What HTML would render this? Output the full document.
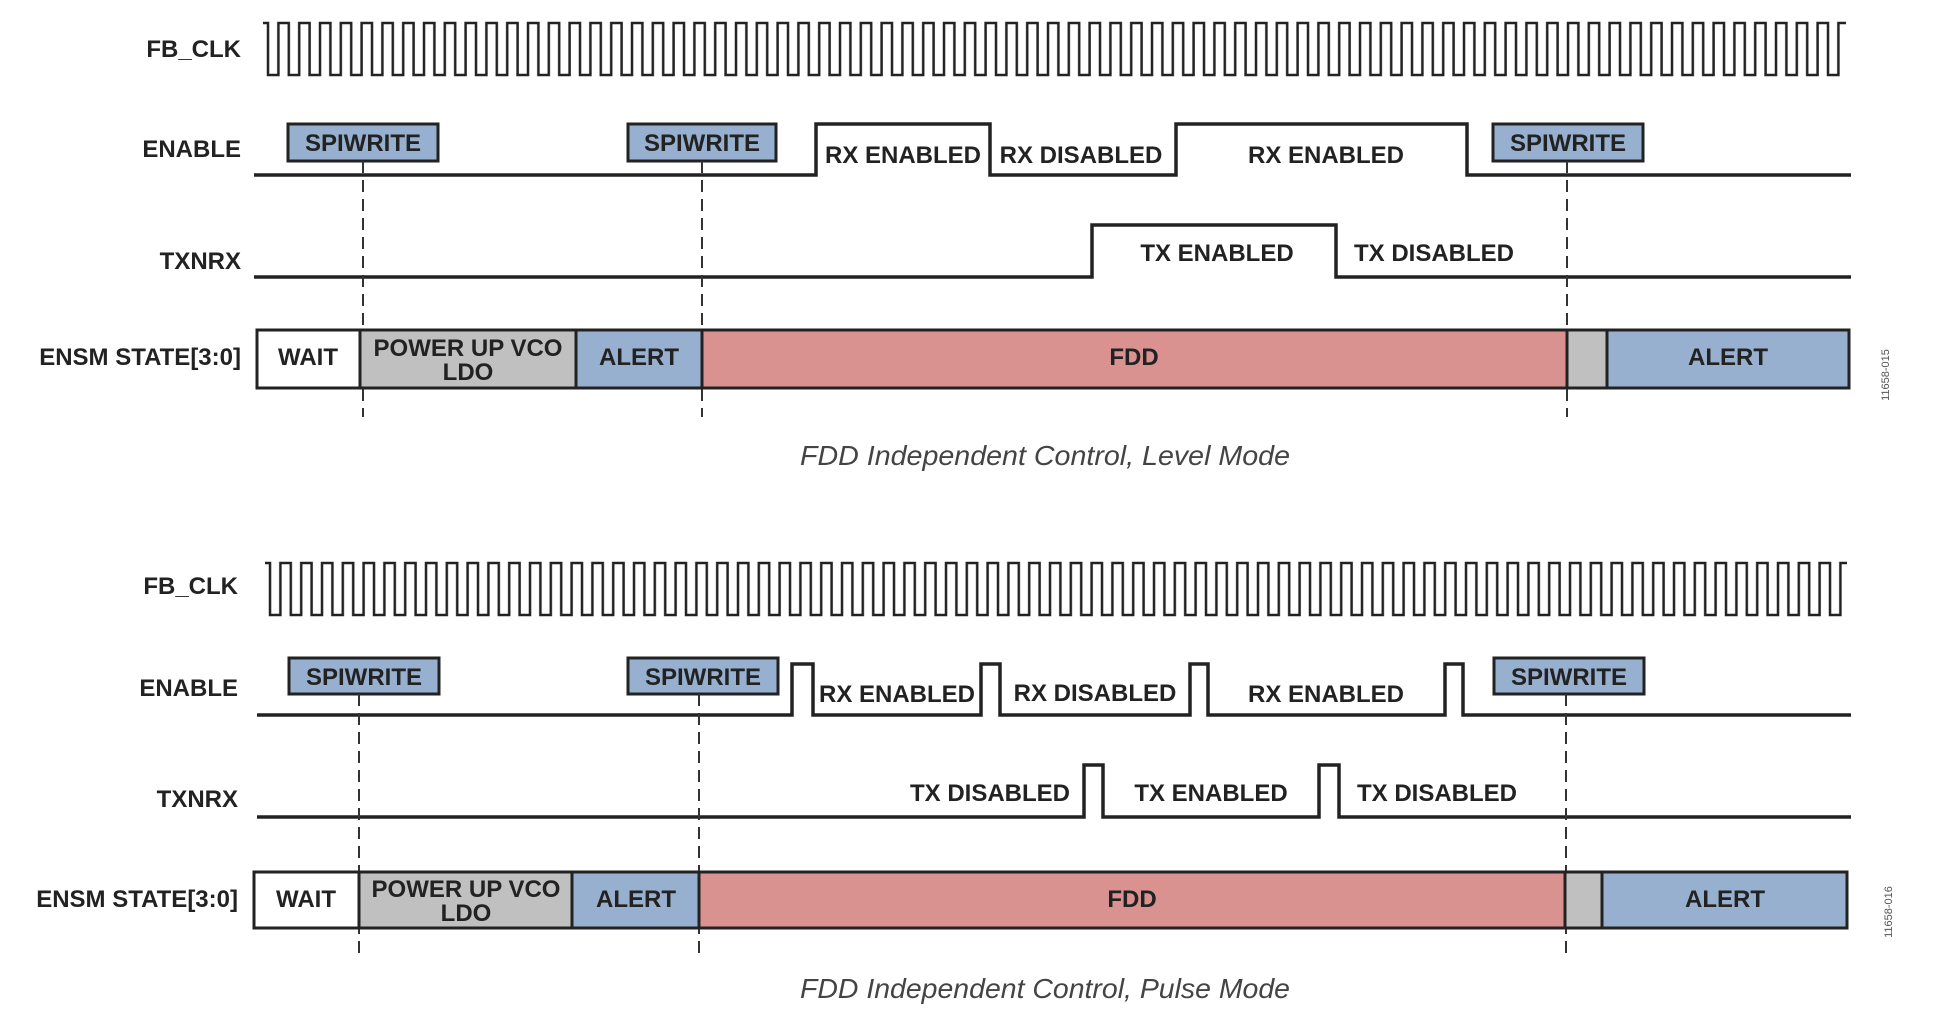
<!DOCTYPE html>
<html><head><meta charset="utf-8"><style>
html,body{margin:0;padding:0;background:#fff;}
svg{display:block;}
text{font-family:"Liberation Sans",Arial,sans-serif;fill:#222;}
.l{font-weight:bold;font-size:24px;}
.c{font-style:italic;font-size:28px;fill:#444;}
.s{font-size:11px;fill:#555;}
</style></head><body>
<svg width="1941" height="1034" viewBox="0 0 1941 1034" xmlns="http://www.w3.org/2000/svg">
<defs>
<pattern id="clk1" x="263" y="0" width="20.8" height="1034" patternUnits="userSpaceOnUse">
<path d="M0,23 H5 V75 H15.4 V23 H20.8" fill="none" stroke="#222" stroke-width="2.5"/>
</pattern>
<pattern id="clk2" x="265" y="0" width="20.8" height="1034" patternUnits="userSpaceOnUse">
<path d="M0,563 H5 V615 H15.4 V563 H20.8" fill="none" stroke="#222" stroke-width="2.5"/>
</pattern>
</defs>

<!-- ===== TOP PANEL ===== -->
<rect x="263" y="20" width="1583" height="58" fill="url(#clk1)"/>
<g class="l" text-anchor="end">
<text x="241" y="57">FB_CLK</text>
<text x="241" y="157">ENABLE</text>
<text x="241" y="269">TXNRX</text>
<text x="241" y="365">ENSM STATE[3:0]</text>
</g>
<path d="M254,175 H816 V124 H990 V175 H1176 V124 H1467 V175 H1851" fill="none" stroke="#222" stroke-width="3.5"/>
<path d="M254,277 H1092 V225 H1336 V277 H1851" fill="none" stroke="#222" stroke-width="3.5"/>
<g fill="#97b0cf" stroke="#222" stroke-width="3">
<rect x="288" y="124" width="150" height="37"/>
<rect x="628" y="124" width="148" height="37"/>
<rect x="1493" y="124" width="150" height="37"/>
</g>
<g stroke="#333" stroke-width="2" stroke-dasharray="12,7">
<line x1="363" y1="161" x2="363" y2="417"/>
<line x1="702" y1="161" x2="702" y2="417"/>
<line x1="1567" y1="161" x2="1567" y2="417"/>
</g>
<g stroke="#222" stroke-width="3">
<rect x="257" y="330" width="103" height="58" fill="#fff"/>
<rect x="360" y="330" width="216" height="58" fill="#c0c0c0"/>
<rect x="576" y="330" width="126" height="58" fill="#97b0cf"/>
<rect x="702" y="330" width="865" height="58" fill="#d99290"/>
<rect x="1567" y="330" width="40" height="58" fill="#c0c0c0"/>
<rect x="1607" y="330" width="242" height="58" fill="#97b0cf"/>
</g>
<g class="l" text-anchor="middle">
<text x="363" y="151">SPIWRITE</text>
<text x="702" y="151">SPIWRITE</text>
<text x="1568" y="151">SPIWRITE</text>
<text x="903" y="163">RX ENABLED</text>
<text x="1081" y="163">RX DISABLED</text>
<text x="1326" y="163">RX ENABLED</text>
<text x="1217" y="261">TX ENABLED</text>
<text x="1434" y="261">TX DISABLED</text>
<text x="308" y="365">WAIT</text>
<text x="468" y="356">POWER UP VCO</text>
<text x="468" y="380">LDO</text>
<text x="639" y="365">ALERT</text>
<text x="1134" y="365">FDD</text>
<text x="1728" y="365">ALERT</text>
</g>
<text class="c" x="1045" y="465" text-anchor="middle" textLength="490" lengthAdjust="spacingAndGlyphs">FDD Independent Control, Level Mode</text>
<text class="s" transform="translate(1889,375) rotate(-90)" text-anchor="middle">11658-015</text>

<!-- ===== BOTTOM PANEL ===== -->
<rect x="265" y="560" width="1582" height="58" fill="url(#clk2)"/>
<g class="l" text-anchor="end">
<text x="238" y="594">FB_CLK</text>
<text x="238" y="696">ENABLE</text>
<text x="238" y="807">TXNRX</text>
<text x="238" y="907">ENSM STATE[3:0]</text>
</g>
<path d="M257,715 H792 V664 H813 V715 H981 V664 H1000 V715 H1190 V664 H1208 V715 H1445 V664 H1463 V715 H1851" fill="none" stroke="#222" stroke-width="3.5"/>
<path d="M257,817 H1084 V765 H1103 V817 H1319 V765 H1339 V817 H1851" fill="none" stroke="#222" stroke-width="3.5"/>
<g fill="#97b0cf" stroke="#222" stroke-width="3">
<rect x="289" y="658" width="150" height="36"/>
<rect x="628" y="658" width="150" height="36"/>
<rect x="1494" y="658" width="150" height="36"/>
</g>
<g stroke="#333" stroke-width="2" stroke-dasharray="12,7">
<line x1="359" y1="694" x2="359" y2="955"/>
<line x1="699" y1="694" x2="699" y2="955"/>
<line x1="1566" y1="694" x2="1566" y2="955"/>
</g>
<g stroke="#222" stroke-width="3">
<rect x="254" y="872" width="105" height="56" fill="#fff"/>
<rect x="359" y="872" width="213" height="56" fill="#c0c0c0"/>
<rect x="572" y="872" width="127" height="56" fill="#97b0cf"/>
<rect x="699" y="872" width="866" height="56" fill="#d99290"/>
<rect x="1565" y="872" width="37" height="56" fill="#c0c0c0"/>
<rect x="1602" y="872" width="245" height="56" fill="#97b0cf"/>
</g>
<g class="l" text-anchor="middle">
<text x="364" y="685">SPIWRITE</text>
<text x="703" y="685">SPIWRITE</text>
<text x="1569" y="685">SPIWRITE</text>
<text x="897" y="702">RX ENABLED</text>
<text x="1095" y="701">RX DISABLED</text>
<text x="1326" y="702">RX ENABLED</text>
<text x="1070" y="801" text-anchor="end">TX DISABLED</text>
<text x="1211" y="801">TX ENABLED</text>
<text x="1357" y="801" text-anchor="start">TX DISABLED</text>
<text x="306" y="907">WAIT</text>
<text x="466" y="897">POWER UP VCO</text>
<text x="466" y="921">LDO</text>
<text x="636" y="907">ALERT</text>
<text x="1132" y="907">FDD</text>
<text x="1725" y="907">ALERT</text>
</g>
<text class="c" x="1045" y="998" text-anchor="middle" textLength="490" lengthAdjust="spacingAndGlyphs">FDD Independent Control, Pulse Mode</text>
<text class="s" transform="translate(1892,912) rotate(-90)" text-anchor="middle">11658-016</text>
</svg>
</body></html>
